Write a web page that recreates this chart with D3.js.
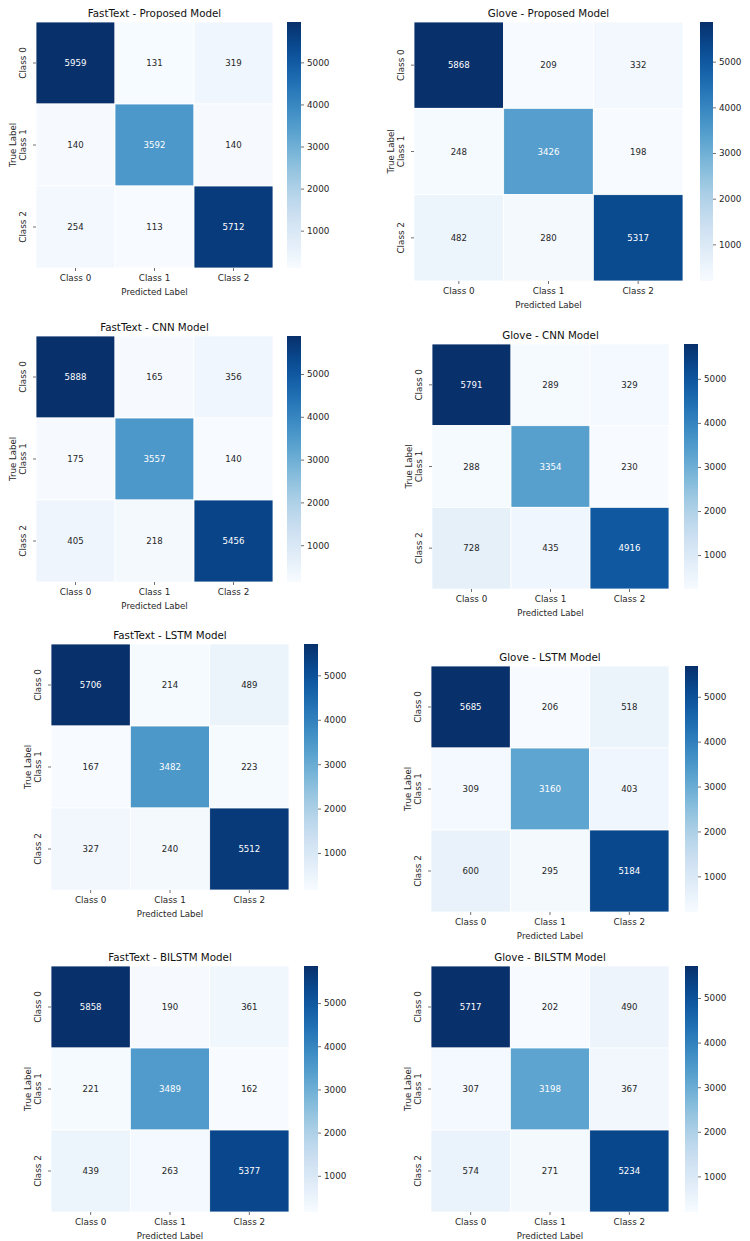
<!DOCTYPE html>
<html>
<head>
<meta charset="utf-8">
<script src="https://cdn.jsdelivr.net/npm/d3@7"></script>
<style>
  html, body { margin: 0; padding: 0; background: #fff; }
  svg { display: block; font-family: "DejaVu Sans", sans-serif; }
</style>
</head>
<body>
<svg id="chart" width="750" height="1241"></svg>
<script>
// ---------- DATA ----------
const classes = ["Class 0", "Class 1", "Class 2"];
const colorbarTicks = [1000, 2000, 3000, 4000, 5000];
const titles = [
  "FastText - Proposed Model", "Glove - Proposed Model",
  "FastText - CNN Model", "Glove - CNN Model",
  "FastText - LSTM Model", "Glove - LSTM Model",
  "FastText - BILSTM Model", "Glove - BILSTM Model"
];
const fasttextProposed = [[5959, 131, 319], [140, 3592, 140], [254, 113, 5712]];
const gloveProposed    = [[5868, 209, 332], [248, 3426, 198], [482, 280, 5317]];
const fasttextCNN      = [[5888, 165, 356], [175, 3557, 140], [405, 218, 5456]];
const gloveCNN         = [[5791, 289, 329], [288, 3354, 230], [728, 435, 4916]];
const fasttextLSTM     = [[5706, 214, 489], [167, 3482, 223], [327, 240, 5512]];
const gloveLSTM        = [[5685, 206, 518], [309, 3160, 403], [600, 295, 5184]];
const fasttextBiLSTM   = [[5858, 190, 361], [221, 3489, 162], [439, 263, 5377]];
const gloveBiLSTM      = [[5717, 202, 490], [307, 3198, 367], [574, 271, 5234]];
const matrices = [fasttextProposed, gloveProposed, fasttextCNN, gloveCNN,
                  fasttextLSTM, gloveLSTM, fasttextBiLSTM, gloveBiLSTM];

// ---------- LAYOUT (pixel boxes of each heatmap and its colorbar) ----------
const layout = [
  { x0: 36,  y0: 22,  x1: 273, y1: 268,  cb0: 287, cb1: 301 },
  { x0: 414, y0: 22,  x1: 683, y1: 281,  cb0: 700, cb1: 713 },
  { x0: 36,  y0: 336, x1: 273, y1: 582,  cb0: 287, cb1: 301 },
  { x0: 432, y0: 344, x1: 669, y1: 589,  cb0: 684, cb1: 698 },
  { x0: 51,  y0: 644, x1: 289, y1: 890,  cb0: 304, cb1: 318 },
  { x0: 431, y0: 666, x1: 669, y1: 912,  cb0: 685, cb1: 698 },
  { x0: 51,  y0: 966, x1: 289, y1: 1212, cb0: 304, cb1: 318 },
  { x0: 431, y0: 966, x1: 669, y1: 1212, cb0: 685, cb1: 698 }
];

const svg = d3.select("#chart");
const defs = svg.append("defs");
const textDark = "#262626";

function relLum(c) {
  const rgb = d3.rgb(c);
  const f = v => { v /= 255; return v <= 0.03928 ? v / 12.92 : Math.pow((v + 0.055) / 1.055, 2.4); };
  return 0.2126 * f(rgb.r) + 0.7152 * f(rgb.g) + 0.0722 * f(rgb.b);
}

matrices.forEach((m, i) => {
  const L = layout[i];
  const flat = m.flat();
  const vmin = d3.min(flat), vmax = d3.max(flat);
  const color = d3.scaleSequential(d3.interpolateBlues).domain([vmin, vmax]);
  const x = d3.scaleBand().domain(classes).range([L.x0, L.x1]);
  const y = d3.scaleBand().domain(classes).range([L.y0, L.y1]);
  const g = svg.append("g");

  const cells = [];
  m.forEach((row, r) => row.forEach((v, c) => cells.push({ r: classes[r], c: classes[c], v })));

  g.selectAll("rect.cell").data(cells).join("rect")
    .attr("class", "cell")
    .attr("x", d => x(d.c)).attr("y", d => y(d.r))
    .attr("width", x.bandwidth()).attr("height", y.bandwidth())
    .attr("fill", d => color(d.v))
    .attr("stroke", "#fff").attr("stroke-width", 0.8);

  g.selectAll("text.val").data(cells).join("text")
    .attr("class", "val")
    .attr("x", d => x(d.c) + x.bandwidth() / 2)
    .attr("y", d => y(d.r) + y.bandwidth() / 2)
    .attr("text-anchor", "middle").attr("dominant-baseline", "central")
    .attr("font-size", 8.6)
    .attr("fill", d => relLum(color(d.v)) > 0.408 ? textDark : "#fff")
    .text(d => d.v);

  // x axis
  const xa = g.append("g").attr("transform", `translate(0,${L.y1})`)
    .call(d3.axisBottom(x).tickSize(3).tickPadding(4));
  xa.select(".domain").remove();
  xa.selectAll("line").attr("stroke", "#333").attr("stroke-width", 0.7);
  xa.selectAll("text").attr("font-size", 8.8).attr("fill", textDark)
    .attr("font-family", "DejaVu Sans");

  // y axis (rotated labels)
  const ya = g.append("g").attr("transform", `translate(${L.x0},0)`)
    .call(d3.axisLeft(y).tickSize(3).tickPadding(4));
  ya.select(".domain").remove();
  ya.selectAll("line").attr("stroke", "#333").attr("stroke-width", 0.7);
  ya.selectAll("text").attr("font-size", 8.8).attr("fill", textDark)
    .attr("font-family", "DejaVu Sans")
    .attr("transform", "rotate(-90)")
    .attr("x", 0).attr("dx", null).attr("dy", null)
    .attr("y", -10)
    .attr("text-anchor", "middle");

  // axis labels
  g.append("text")
    .attr("x", (L.x0 + L.x1) / 2).attr("y", L.y1 + 26.5)
    .attr("text-anchor", "middle").attr("font-size", 8.6).attr("fill", textDark)
    .text("Predicted Label");
  g.append("text")
    .attr("transform", `translate(${L.x0 - 20},${(L.y0 + L.y1) / 2}) rotate(-90)`)
    .attr("text-anchor", "middle").attr("font-size", 8.6).attr("fill", textDark)
    .text("True Label");

  // title
  g.append("text")
    .attr("x", (L.x0 + L.x1) / 2).attr("y", L.y0 - 5)
    .attr("text-anchor", "middle").attr("font-size", 10.3).attr("fill", "#111")
    .text(titles[i]);

  // colorbar
  const gid = "cbgrad" + i;
  const grad = defs.append("linearGradient").attr("id", gid)
    .attr("x1", 0).attr("y1", 1).attr("x2", 0).attr("y2", 0);
  d3.range(0, 1.0001, 0.05).forEach(t => {
    grad.append("stop").attr("offset", t).attr("stop-color", color(vmin + t * (vmax - vmin)));
  });
  g.append("rect")
    .attr("x", L.cb0).attr("y", L.y0)
    .attr("width", L.cb1 - L.cb0).attr("height", L.y1 - L.y0)
    .attr("fill", `url(#${gid})`);
  const cy = d3.scaleLinear().domain([vmin, vmax]).range([L.y1, L.y0]);
  const ca = g.append("g").attr("transform", `translate(${L.cb1},0)`)
    .call(d3.axisRight(cy).tickValues(colorbarTicks).tickFormat(d3.format("d")).tickSize(3).tickPadding(3));
  ca.select(".domain").remove();
  ca.selectAll("line").attr("stroke", "#333").attr("stroke-width", 0.7);
  ca.selectAll("text").attr("font-size", 8.8).attr("fill", textDark)
    .attr("font-family", "DejaVu Sans");
});
</script>
</body>
</html>
